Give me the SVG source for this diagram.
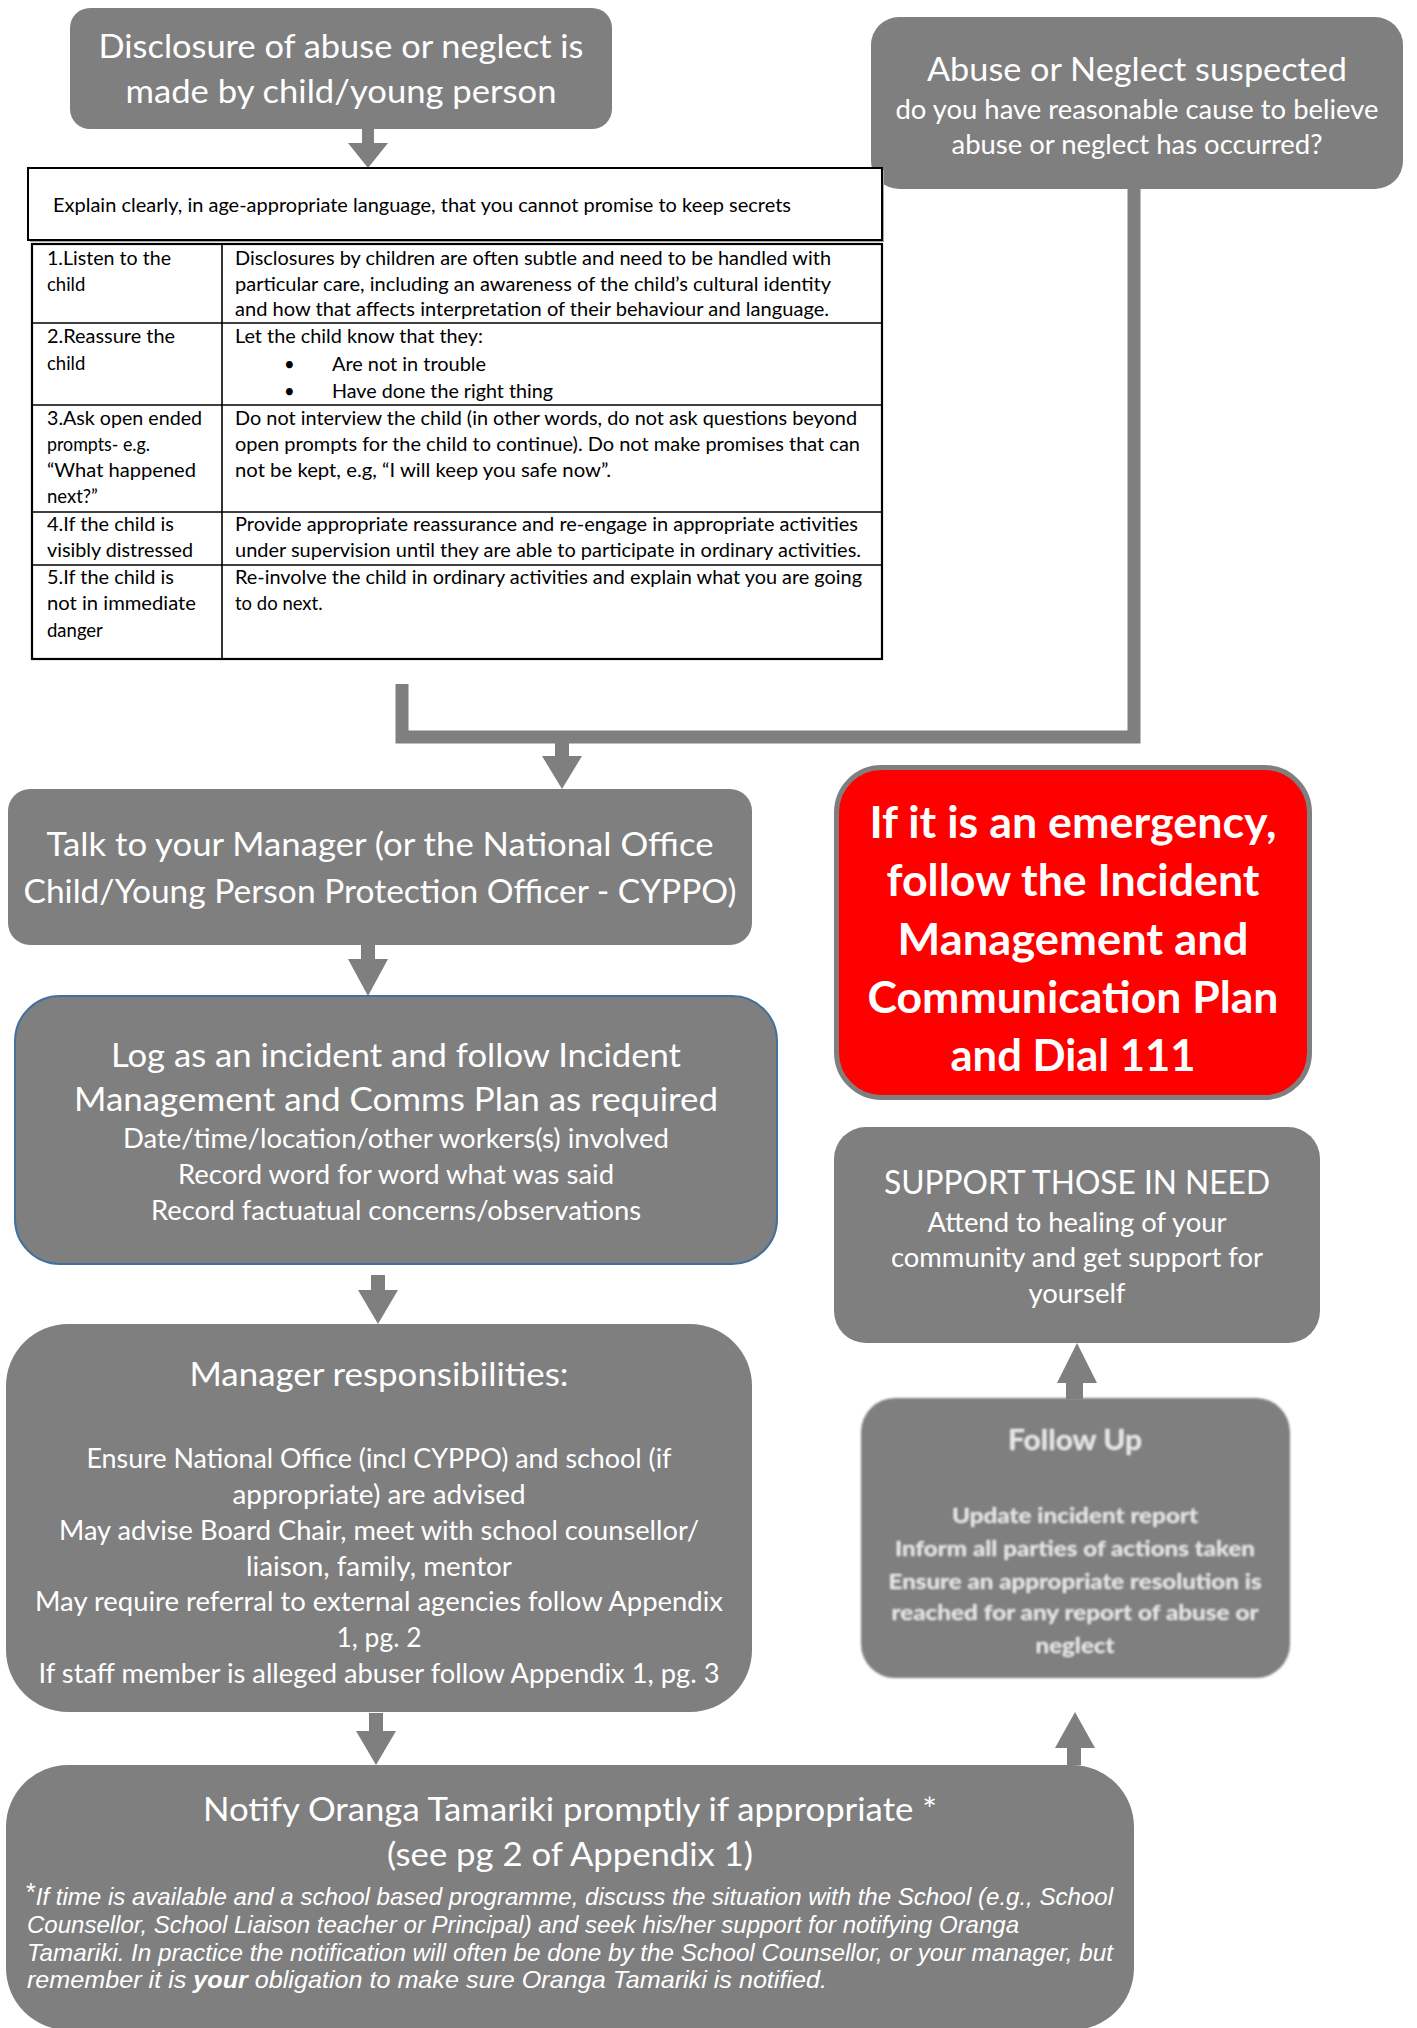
<svg xmlns="http://www.w3.org/2000/svg" width="1417" height="2028" viewBox="0 0 1417 2028">
<defs>
<style>
.box{fill:#7F7F7F;}
.w{font-family:Lato,"Open Sans","Liberation Sans",sans-serif;fill:#FFFFFF;text-anchor:middle;}
.big{font-size:33px;}
.med{font-size:26px;}
.tb{font-family:Lato,"Open Sans","Liberation Sans",sans-serif;fill:#000000;font-size:18.5px;}
.grid{stroke:#000000;stroke-width:1.6;fill:none;}
.conn{fill:#7F7F7F;stroke:none;}
.fu{font-family:Lato,"Open Sans","Liberation Sans",sans-serif;fill:#EAEAEA;text-anchor:middle;font-weight:bold;}
.it{font-family:"Liberation Sans",Arial,sans-serif;font-style:italic;fill:#FFFFFF;font-size:24px;}
</style>
<filter id="soft" x="-5%" y="-5%" width="110%" height="110%">
<feGaussianBlur stdDeviation="0.8"/>
</filter>
</defs>
<rect width="1417" height="2028" fill="#FFFFFF"/>

<g id="connectors">
<polyline points="402,684 402,737 1134,737 1134,189" fill="none" stroke="#7F7F7F" stroke-width="13" stroke-linejoin="miter"/>
<path class="conn" d="M362,129 H374 V143 H388 L368,168 L348,143 H362 Z"/>
<path class="conn" d="M555,743 H569 V756 H582 L562,789 L542,756 H555 Z"/>
<path class="conn" d="M361,944 H375 V959 H388 L368,996 L348,959 H361 Z"/>
<path class="conn" d="M371,1275 H385 V1290 H398 L378,1324 L358,1290 H371 Z"/>
<path class="conn" d="M369,1713 H383 V1731 H396 L376,1765 L356,1731 H369 Z"/>
<path class="conn" d="M1067,1765 H1081 V1748 H1095 L1075,1712 L1055,1748 H1067 Z"/>
<path class="conn" d="M1066,1399 H1083 V1383 H1097 L1077,1343 L1057,1383 H1066 Z"/>
</g>

<g id="disclosure">
<rect class="box" x="70" y="8" width="542" height="121" rx="20"/>
<text class="w big" x="341" y="58" textLength="485" lengthAdjust="spacingAndGlyphs">Disclosure of abuse or neglect is</text>
<text class="w big" x="341" y="103" textLength="431" lengthAdjust="spacingAndGlyphs">made by child/young person</text>
</g>

<g id="suspected">
<rect class="box" x="871" y="17" width="532" height="172" rx="28"/>
<text class="w big" x="1137" y="81" textLength="420" lengthAdjust="spacingAndGlyphs">Abuse or Neglect suspected</text>
<text class="w med" x="1137" y="119" textLength="483" lengthAdjust="spacingAndGlyphs">do you have reasonable cause to believe</text>
<text class="w med" x="1137" y="154" textLength="371" lengthAdjust="spacingAndGlyphs">abuse or neglect has occurred?</text>
</g>

<g id="explain">
<rect x="30" y="170" width="854" height="72" fill="#A6A6A6"/>
<rect x="28" y="168" width="854" height="72" fill="#FFFFFF" stroke="#000000" stroke-width="2"/>
<text class="tb" x="53" y="212" textLength="738" lengthAdjust="spacingAndGlyphs">Explain clearly, in age-appropriate language, that you cannot promise to keep secrets</text>
</g>

<g id="steps-table">
<rect x="32" y="244" width="850" height="415" fill="#FFFFFF" stroke="#000000" stroke-width="2.2"/>
<line class="grid" x1="222" y1="244" x2="222" y2="659"/>
<line class="grid" x1="32" y1="323" x2="882" y2="323"/>
<line class="grid" x1="32" y1="405" x2="882" y2="405"/>
<line class="grid" x1="32" y1="512" x2="882" y2="512"/>
<line class="grid" x1="32" y1="565" x2="882" y2="565"/>

<text class="tb" x="47" y="265" textLength="124" lengthAdjust="spacingAndGlyphs">1.Listen to the</text>
<text class="tb" x="47" y="291">child</text>
<text class="tb" x="235" y="265" textLength="596" lengthAdjust="spacingAndGlyphs">Disclosures by children are often subtle and need to be handled with</text>
<text class="tb" x="235" y="291" textLength="596" lengthAdjust="spacingAndGlyphs">particular care, including an awareness of the child’s cultural identity</text>
<text class="tb" x="235" y="316" textLength="594" lengthAdjust="spacingAndGlyphs">and how that affects interpretation of their behaviour and language.</text>

<text class="tb" x="47" y="343" textLength="128" lengthAdjust="spacingAndGlyphs">2.Reassure the</text>
<text class="tb" x="47" y="370">child</text>
<text class="tb" x="235" y="343" textLength="248" lengthAdjust="spacingAndGlyphs">Let the child know that they:</text>
<text class="tb" x="284" y="371">•</text>
<text class="tb" x="332" y="371" textLength="154" lengthAdjust="spacingAndGlyphs">Are not in trouble</text>
<text class="tb" x="284" y="398">•</text>
<text class="tb" x="332" y="398" textLength="221" lengthAdjust="spacingAndGlyphs">Have done the right thing</text>

<text class="tb" x="47" y="425" textLength="155" lengthAdjust="spacingAndGlyphs">3.Ask open ended</text>
<text class="tb" x="47" y="451" textLength="103" lengthAdjust="spacingAndGlyphs">prompts- e.g.</text>
<text class="tb" x="47" y="477" textLength="149" lengthAdjust="spacingAndGlyphs">“What happened</text>
<text class="tb" x="47" y="503">next?”</text>
<text class="tb" x="235" y="425" textLength="622" lengthAdjust="spacingAndGlyphs">Do not interview the child (in other words, do not ask questions beyond</text>
<text class="tb" x="235" y="451" textLength="625" lengthAdjust="spacingAndGlyphs">open prompts for the child to continue). Do not make promises that can</text>
<text class="tb" x="235" y="477" textLength="376" lengthAdjust="spacingAndGlyphs">not be kept, e.g, “I will keep you safe now”.</text>

<text class="tb" x="47" y="531" textLength="127" lengthAdjust="spacingAndGlyphs">4.If the child is</text>
<text class="tb" x="47" y="557" textLength="146" lengthAdjust="spacingAndGlyphs">visibly distressed</text>
<text class="tb" x="235" y="531" textLength="623" lengthAdjust="spacingAndGlyphs">Provide appropriate reassurance and re-engage in appropriate activities</text>
<text class="tb" x="235" y="557" textLength="626" lengthAdjust="spacingAndGlyphs">under supervision until they are able to participate in ordinary activities.</text>

<text class="tb" x="47" y="584" textLength="127" lengthAdjust="spacingAndGlyphs">5.If the child is</text>
<text class="tb" x="47" y="610" textLength="149" lengthAdjust="spacingAndGlyphs">not in immediate</text>
<text class="tb" x="47" y="637">danger</text>
<text class="tb" x="235" y="584" textLength="627" lengthAdjust="spacingAndGlyphs">Re-involve the child in ordinary activities and explain what you are going</text>
<text class="tb" x="235" y="610">to do next.</text>
</g>

<g id="talk-manager">
<rect class="box" x="8" y="789" width="744" height="156" rx="22"/>
<text class="w big" x="380" y="856" textLength="667" lengthAdjust="spacingAndGlyphs">Talk to your Manager (or the National Office</text>
<text class="w big" x="380" y="903" textLength="713" lengthAdjust="spacingAndGlyphs">Child/Young Person Protection Officer - CYPPO)</text>
</g>

<g id="emergency">
<rect x="836.5" y="767.5" width="473" height="330" rx="45" fill="#FF0000" stroke="#7F7F7F" stroke-width="5"/>
<text class="w" font-size="43" font-weight="bold" x="1073" y="838" textLength="407" lengthAdjust="spacingAndGlyphs">If it is an emergency,</text>
<text class="w" font-size="43" font-weight="bold" x="1073" y="896" textLength="373" lengthAdjust="spacingAndGlyphs">follow the Incident</text>
<text class="w" font-size="43" font-weight="bold" x="1073" y="955" textLength="351" lengthAdjust="spacingAndGlyphs">Management and</text>
<text class="w" font-size="43" font-weight="bold" x="1073" y="1013" textLength="411" lengthAdjust="spacingAndGlyphs">Communication Plan</text>
<text class="w" font-size="43" font-weight="bold" x="1073" y="1071" textLength="245" lengthAdjust="spacingAndGlyphs">and Dial 111</text>
</g>

<g id="log-incident">
<rect class="box" x="15" y="996" width="762" height="268" rx="45" stroke="#41719C" stroke-width="2"/>
<text class="w big" x="396" y="1067" textLength="570" lengthAdjust="spacingAndGlyphs">Log as an incident and follow Incident</text>
<text class="w big" x="396" y="1111" textLength="644" lengthAdjust="spacingAndGlyphs">Management and Comms Plan as required</text>
<text class="w med" x="396" y="1148" textLength="546" lengthAdjust="spacingAndGlyphs">Date/time/location/other workers(s) involved</text>
<text class="w med" x="396" y="1184" textLength="436" lengthAdjust="spacingAndGlyphs">Record word for word what was said</text>
<text class="w med" x="396" y="1220" textLength="490" lengthAdjust="spacingAndGlyphs">Record factuatual concerns/observations</text>
</g>

<g id="support">
<rect class="box" x="834" y="1127" width="486" height="216" rx="32"/>
<text class="w big" x="1077" y="1194" textLength="386" lengthAdjust="spacingAndGlyphs">SUPPORT THOSE IN NEED</text>
<text class="w med" x="1077" y="1232" textLength="299" lengthAdjust="spacingAndGlyphs">Attend to healing of your</text>
<text class="w med" x="1077" y="1267" textLength="372" lengthAdjust="spacingAndGlyphs">community and get support for</text>
<text class="w med" x="1077" y="1303" textLength="97" lengthAdjust="spacingAndGlyphs">yourself</text>
</g>

<g id="manager-responsibilities">
<rect class="box" x="6" y="1324" width="746" height="388" rx="62"/>
<text class="w big" x="379" y="1386" textLength="379" lengthAdjust="spacingAndGlyphs">Manager responsibilities:</text>
<text class="w med" x="379" y="1468" textLength="585" lengthAdjust="spacingAndGlyphs">Ensure National Office (incl CYPPO) and school (if</text>
<text class="w med" x="379" y="1504" textLength="293" lengthAdjust="spacingAndGlyphs">appropriate) are advised</text>
<text class="w med" x="379" y="1540" textLength="640" lengthAdjust="spacingAndGlyphs">May advise Board Chair, meet with school counsellor/</text>
<text class="w med" x="379" y="1576" textLength="266" lengthAdjust="spacingAndGlyphs">liaison, family, mentor</text>
<text class="w med" x="379" y="1611" textLength="688" lengthAdjust="spacingAndGlyphs">May require referral to external agencies follow Appendix</text>
<text class="w med" x="379" y="1647" textLength="85" lengthAdjust="spacingAndGlyphs">1, pg. 2</text>
<text class="w med" x="379" y="1683" textLength="681" lengthAdjust="spacingAndGlyphs">If staff member is alleged abuser follow Appendix 1, pg. 3</text>
</g>

<g id="follow-up" filter="url(#soft)">
<rect class="box" x="861" y="1398" width="429" height="280" rx="34"/>
<text class="fu" font-size="29" x="1075" y="1450" textLength="134" lengthAdjust="spacingAndGlyphs">Follow Up</text>
<text class="fu" font-size="21" x="1075" y="1523" textLength="246" lengthAdjust="spacingAndGlyphs">Update incident report</text>
<text class="fu" font-size="21" x="1075" y="1556" textLength="360" lengthAdjust="spacingAndGlyphs">Inform all parties of actions taken</text>
<text class="fu" font-size="21" x="1075" y="1589" textLength="373" lengthAdjust="spacingAndGlyphs">Ensure an appropriate resolution is</text>
<text class="fu" font-size="21" x="1075" y="1620" textLength="367" lengthAdjust="spacingAndGlyphs">reached for any report of abuse or</text>
<text class="fu" font-size="21" x="1075" y="1653" textLength="79" lengthAdjust="spacingAndGlyphs">neglect</text>
</g>

<g id="notify">
<rect class="box" x="6" y="1765" width="1128" height="265" rx="62"/>
<text class="w big" x="570" y="1821" textLength="734" lengthAdjust="spacingAndGlyphs">Notify Oranga Tamariki promptly if appropriate *</text>
<text class="w big" x="570" y="1866" textLength="366" lengthAdjust="spacingAndGlyphs">(see pg 2 of Appendix 1)</text>
<text class="it" x="26" y="1905" textLength="1087" lengthAdjust="spacingAndGlyphs"><tspan font-style="normal" font-size="25" baseline-shift="4">*</tspan>If time is available and a school based programme, discuss the situation with the School (e.g., School</text>
<text class="it" x="27" y="1933" textLength="992" lengthAdjust="spacingAndGlyphs">Counsellor, School Liaison teacher or Principal) and seek his/her support for notifying Oranga</text>
<text class="it" x="27" y="1961" textLength="1086" lengthAdjust="spacingAndGlyphs">Tamariki.  In practice the notification will often be done by the School Counsellor, or your manager, but</text>
<text class="it" x="27" y="1988" textLength="800" lengthAdjust="spacingAndGlyphs">remember it is <tspan font-weight="bold">your</tspan> obligation to make sure Oranga Tamariki is notified.</text>
</g>
</svg>
